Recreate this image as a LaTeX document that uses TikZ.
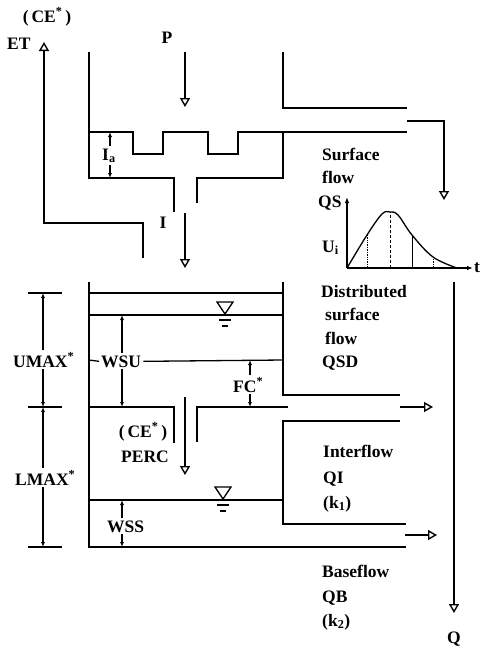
\documentclass[tikz,border=0pt]{standalone}
\usepackage{fontspec}
\setmainfont{Liberation Serif}
\usetikzlibrary{arrows.meta,positioning}

\begin{document}
\begin{tikzpicture}[x=1pt,y=-1pt,
  every node/.style={font=\fontsize{17.5}{21}\selectfont\bfseries,inner sep=0pt},
  wall/.style={line width=2pt},
  level/.style={line width=1.3pt},
  flow/.style={line width=1.4pt,-{Triangle[open,length=9pt,width=10pt,line width=1.4pt]}},
  dim/.style={line width=1.1pt,-{Latex[length=5pt,width=4pt]}},
  tick/.style={line width=1.4pt},
  ord/.style={line width=0.7pt}]
\useasboundingbox (0,0) rectangle (481,649);

% interception store
\draw[wall] (89,52) -- (89,178) -- (174,178) -- (174,212);
\draw[wall] (197,203) -- (197,178) -- (283,178) -- (283,132);
\draw[wall] (89,132) -- (133,132) -- (133,154) -- (163,154) -- (163,132) -- (208,132)
  -- (208,154) -- (238,154) -- (238,132) -- (407,132);
\draw[wall] (283,52) -- (283,108) -- (407,108);

% upper and lower soil stores
\draw[wall] (89,282) -- (89,547) -- (406,547);
\draw[wall] (283,282) -- (283,395) -- (400,395);
\draw[wall] (89,407) -- (174,407) -- (174,443);
\draw[wall] (197,442) -- (197,407) -- (288,407);
\draw[wall] (400,421) -- (283,421) -- (283,524) -- (406,524);
\draw[level] (89,293) -- (283,293);
\draw[level] (89,315) -- (283,315);
\draw[level] (89,500) -- (283,500);
\foreach \x/\y in {225/315,223/500} {
  \draw[level] (\x-8,\y-13) -- (\x+8,\y-13) -- (\x,\y-1) -- cycle;
  \draw[level] (\x-6,\y+5) -- (\x+6,\y+5) (\x-3,\y+11) -- (\x+3,\y+11);
}

% named points
\coordinate (etS) at (143,258);
\coordinate (etT) at (44,42);
\coordinate (pS) at (185,52);
\coordinate (pT) at (185,107);
\coordinate (iS) at (185,213);
\coordinate (iT) at (185,268);
\coordinate (percS) at (185,397);
\coordinate (percT) at (185,475);
\coordinate (qsS) at (407,121);
\coordinate (qsT) at (444,200);
\coordinate (qiS) at (400,407);
\coordinate (qiT) at (433,407);
\coordinate (qbS) at (405,535);
\coordinate (qbT) at (437,535);
\coordinate (qS) at (454,282);
\coordinate (qT) at (454,613);
\coordinate (uT) at (43,293);
\coordinate (uB) at (43,407);
\coordinate (lB) at (43,547);
\coordinate (wT) at (122,315);
\coordinate (wB) at (122,407);
\coordinate (sT) at (122,500);
\coordinate (sB) at (122,547);
\coordinate (fT) at (250,360);
\coordinate (fB) at (250,407);
\coordinate (aT) at (110,132);
\coordinate (aB) at (110,178);
\coordinate (o) at (347,268);

% flows
\draw[flow] (etS) -- (etS |- 0,223) -- (etT |- 0,223) -- (etT);
\draw[flow] (pS) -- (pT);
\draw[flow] (iS) -- (iT);
\draw[flow] (percS) -- (percT);
\draw[flow] (qsS) -- (qsT |- qsS) -- (qsT);
\draw[flow] (qiS) -- (qiT);
\draw[flow] (qbS) -- (qbT);
\draw[flow] (qS) -- (qT);

% dimension ticks
\foreach \y in {293,407,547} \draw[tick] (28,\y) -- (62,\y);

% labels
\node[anchor=base] (ce) at (47,22) {(\,CE\textsuperscript{*}\,)};
\node[anchor=base west] (et) at (7,49) {ET};
\node[anchor=base] (p) at (167,43) {P};
\node[anchor=base] (i) at (163,228) {I};
\node[anchor=base west,inner sep=2pt] (ia) at (100,160) {I\textsubscript{a}};
\node[anchor=base west] (sf1) at (322,160) {Surface};
\node[anchor=base west] (sf2) at (322,183) {flow};
\node[anchor=base west] (qs) at (318,207) {QS};
\node[anchor=base west] (ui) at (322,252) {U\textsubscript{i}};
\node[anchor=base west] (t) at (474,272) {t};
\node[anchor=base west] (dsf1) at (321,297) {Distributed};
\node[anchor=base west] (dsf2) at (325,320) {surface};
\node[anchor=base west] (dsf3) at (325,344) {flow};
\node[anchor=base west] (qsd) at (322,367) {QSD};
\node[anchor=base west] (if1) at (323,457) {Interflow};
\node[anchor=base west] (qi) at (323,483) {QI};
\node[anchor=base west] (k1) at (323,508) {(k\textsubscript{1})};
\node[anchor=base west] (bf1) at (322,577) {Baseflow};
\node[anchor=base west] (qb) at (322,602) {QB};
\node[anchor=base west] (k2) at (322,626) {(k\textsubscript{2})};
\node[anchor=base] (q) at (454,643) {Q};
\node[anchor=base west,inner sep=2pt] (umax) at (11,367) {UMAX\textsuperscript{*}};
\node[anchor=base west,inner sep=2pt] (lmax) at (13,485) {LMAX\textsuperscript{*}};
\node[anchor=base west,inner sep=2pt] (wsu) at (99,367) {WSU};
\node[anchor=base west,inner sep=2pt] (wss) at (105,532) {WSS};
\node[anchor=base west,inner sep=2pt] (fc) at (231,392) {FC\textsuperscript{*}};
\node[anchor=base] (ce2) at (143,437) {(\,CE\textsuperscript{*}\,)};
\node[anchor=base] (perc) at (145,462) {PERC};

% storage dimensions
\draw[level] (89,360) -- (wsu.west);
\draw[level] (wsu.east) -- (283,360);
\draw[dim] (umax.north -| uT) -- (uT);
\draw[dim] (umax.south -| uB) -- (uB);
\draw[dim] (lmax.north -| uB) -- (uB);
\draw[dim] (lmax.south -| lB) -- (lB);
\draw[dim] (wsu.north -| wT) -- (wT);
\draw[dim] (wsu.south -| wB) -- (wB);
\draw[dim] (wss.north -| sT) -- (sT);
\draw[dim] (wss.south -| sB) -- (sB);
\draw[dim] (fc.north -| fT) -- (fT);
\draw[dim] (fc.south -| fB) -- (fB);
\draw[dim] (ia.north -| aT) -- (aT);
\draw[dim] (ia.south -| aB) -- (aB);

% unit hydrograph
\draw[line width=1.1pt,-{Latex[length=6pt,width=4.5pt]}] (o) -- (347,197);
\draw[line width=1.1pt,-{Latex[length=6pt,width=4.5pt]}] (o) -- (473,268);
\draw[line width=1.3pt] plot[smooth,tension=0.6] coordinates {(347,268) (367,235) (382,214) (390,212) (398,215) (412,235) (433,257) (457,268)};
\draw[ord,densely dotted] (367,268) -- (367,235);
\draw[ord,densely dashed] (390,268) -- (390,212);
\draw[ord] (412,268) -- (412,235);
\draw[ord,densely dotted] (433,268) -- (433,257);
\end{tikzpicture}
\end{document}
